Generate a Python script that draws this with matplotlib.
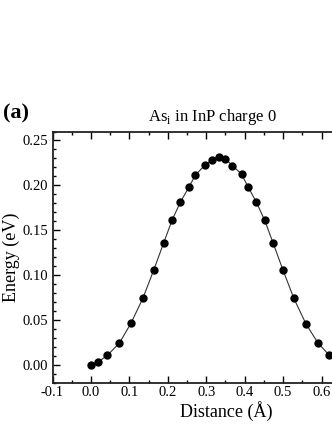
import numpy as np
import matplotlib.pyplot as plt
from matplotlib.ticker import MultipleLocator

# NEB path for As_i in InP, charge 0
distance = [0.000, 0.018, 0.043, 0.074, 0.104, 0.135, 0.163, 0.189, 0.211,
            0.233, 0.255, 0.272, 0.296, 0.315, 0.332, 0.350, 0.368, 0.392,
            0.409, 0.430, 0.452, 0.474, 0.500, 0.528, 0.559, 0.590, 0.620]
energy = [0.0000, 0.0026, 0.0104, 0.0240, 0.0460, 0.0738, 0.1050, 0.1355,
          0.1610, 0.1815, 0.1980, 0.2116, 0.2222, 0.2283, 0.2320, 0.2294,
          0.2220, 0.2124, 0.1980, 0.1815, 0.1610, 0.1355, 0.1050, 0.0738,
          0.0457, 0.0245, 0.0104]

plt.rcParams['font.family'] = ['Liberation Serif', 'DejaVu Serif']
plt.rcParams['mathtext.fontset'] = 'custom'
plt.rcParams['mathtext.rm'] = 'Liberation Serif'

W, H = 332, 430
fig = plt.figure(figsize=(W / 100, H / 100), dpi=100)
# the axes runs past the right edge of the figure, as in the reference
left, right, top, bottom = 52.5, 360.0, 131.5, 382.5
ax = fig.add_axes([left / W, 1 - bottom / H, (right - left) / W, (bottom - top) / H])

ax.plot(distance, energy, color='#333333', lw=0.8, zorder=2)
ax.plot(distance, energy, 'o', color='black', ms=5, zorder=3)

ax.set_xlim(-0.1, 0.7)
ax.set_ylim(-0.02, 0.26)
ax.xaxis.set_major_locator(MultipleLocator(0.1))
ax.xaxis.set_minor_locator(MultipleLocator(0.05))
ax.yaxis.set_major_locator(MultipleLocator(0.05))
ax.yaxis.set_minor_locator(MultipleLocator(0.01))
ax.xaxis.set_major_formatter(plt.FuncFormatter(lambda v, p: f"{v:.1f}"))
ax.yaxis.set_major_formatter(plt.FuncFormatter(lambda v, p: f"{v:.2f}"))
ax.tick_params(which='both', direction='in', top=True, right=True,
               labelsize=10.5, width=1.0)
ax.tick_params(axis='x', pad=2.5)
ax.tick_params(axis='y', pad=3)
ax.tick_params(which='major', length=5)
ax.tick_params(which='minor', length=2.5)
for s in ax.spines.values():
    s.set_linewidth(1.3)
    s.set_color('#222222')

ax.set_xlabel("Distance (Å)", fontsize=13)
ax.set_ylabel("Energy (eV)", fontsize=13)
aw, ah = right - left, bottom - top
ax.xaxis.set_label_coords((226.5 - left) / aw, -(416.5 - bottom) / ah)
ax.yaxis.set_label_coords((11 - left) / aw, 0.5)
ax.xaxis.label.set_va('baseline')
ax.yaxis.label.set_va('center')

fig.text(212.5 / W, 1 - 121 / H, r"As$_\mathrm{i}$ in InP charge 0",
         ha='center', va='baseline', fontsize=12)
fig.text(3 / W, 1 - 118 / H, "(a)", ha='left', va='baseline',
         fontsize=16, fontweight='bold')

fig.savefig('out.png', dpi=100)
